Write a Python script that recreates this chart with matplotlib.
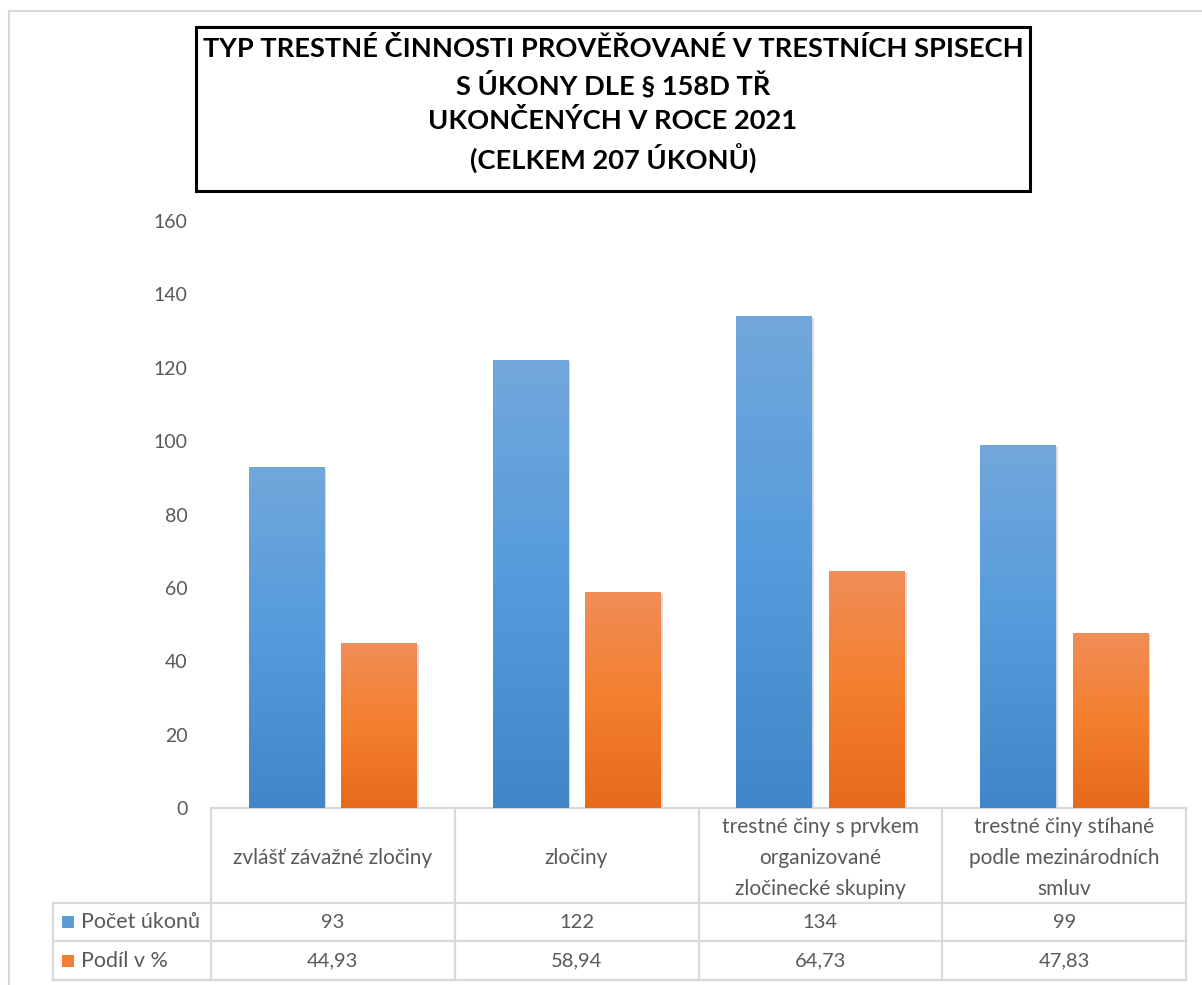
import numpy as np
import matplotlib
matplotlib.use('Agg')
import matplotlib.pyplot as plt
from matplotlib.colors import LinearSegmentedColormap
from matplotlib.patches import Rectangle
from matplotlib.transforms import blended_transform_factory
import matplotlib.patheffects as pe

kategorie = ['zvlášť závažné zločiny', 'zločiny',
             'trestné činy s prvkem\norganizované\nzločinecké skupiny',
             'trestné činy stíhané\npodle mezinárodních\nsmluv']
pocet_ukonu = [93, 122, 134, 99]
podil_pct = [44.93, 58.94, 64.73, 47.83]
serie = ['Počet úkonů', 'Podíl v %']
titulek = ('TYP TRESTNÉ ČINNOSTI PROVĚŘOVANÉ V TRESTNÍCH SPISECH\n'
           'S ÚKONY DLE § 158D TŘ\nUKONČENÝCH V ROCE 2021\n(CELKEM 207 ÚKONŮ)')

plt.rcParams['font.family'] = ['Lato', 'DejaVu Sans']
W, H = 1202, 985
fig = plt.figure(figsize=(W / 100, H / 100), dpi=100)


def fx(px):
    return px / W


def fy(py):
    return 1 - py / H


# vnější rámeček grafu
fig.patches.append(Rectangle((fx(9), fy(1100)), fx(1300), fy(11) - fy(1100),
                             transform=fig.transFigure, fill=False,
                             edgecolor='#D9D9D9', lw=1.5))
# rámeček titulku
fig.patches.append(Rectangle((fx(196), fy(191)), fx(1030) - fx(196), fy(27) - fy(191),
                             transform=fig.transFigure, fill=False,
                             edgecolor='black', lw=2.2))
fig.text(fx(613), fy(105), titulek, ha='center', va='center', fontsize=19.6,
         fontweight='bold', color='black', linespacing=1.42)

ax = fig.add_axes([fx(211), fy(808), fx(1186) - fx(211), fy(221) - fy(808)])
x = np.arange(len(kategorie))
sirka = 0.31
posun = 0.19

modra = LinearSegmentedColormap.from_list('m', ['#4285C9', '#559BDB', '#72A7DC'])
oranz = LinearSegmentedColormap.from_list('o', ['#E66A19', '#F47F2E', '#F08D57'])

for hodnoty, dx, cmap in [(pocet_ukonu, -posun, modra), (podil_pct, posun, oranz)]:
    bars = ax.bar(x + dx, hodnoty, width=sirka, color=cmap(0.5), zorder=2,
                  path_effects=[pe.SimplePatchShadow(offset=(1.5, -1.5), shadow_rgbFace='#999999', alpha=0.35),
                                pe.Normal()])
    grad = np.linspace(0, 1, 256).reshape(-1, 1)
    for b in bars:
        im = ax.imshow(grad, cmap=cmap, origin='lower', aspect='auto', zorder=3,
                       extent=(b.get_x(), b.get_x() + b.get_width(), 0, b.get_height()))
        im.set_clip_path(b)

ax.set_xlim(-0.5, len(kategorie) - 0.5)
ax.set_ylim(0, 160)
ax.set_yticks(range(0, 161, 20))
ax.set_xticks([])
for s in ax.spines.values():
    s.set_visible(False)
ax.tick_params(axis='y', length=0, pad=17, labelsize=14, labelcolor='#595959')

# datová tabulka pod grafem
tr = blended_transform_factory(ax.transData, ax.transAxes)
ax_h = 808 - 221


def ay(py):
    return (808 - py) / ax_h


lc = '#D9D9D9'
lw = 1.6
leg_left = -0.5 - 158 / 243.75
kw = dict(transform=tr, clip_on=False, color=lc, lw=lw)
ax.plot([-0.5, 3.5], [0, 0], **kw)
for yy in [903, 941, 980]:
    ax.plot([leg_left, 3.5], [ay(yy)] * 2, **kw)
ax.plot([leg_left, leg_left], [ay(903), ay(980)], **kw)
for xx in np.arange(-0.5, 3.6, 1):
    ax.plot([xx, xx], [0, ay(980)], **kw)

tkw = dict(transform=tr, ha='center', va='center', color='#595959', clip_on=False)
for i, k in enumerate(kategorie):
    ax.text(i, ay(858), k, linespacing=1.7, fontsize=15, **tkw)
    ax.text(i, ay(922), str(pocet_ukonu[i]), fontsize=14.5, **tkw)
    ax.text(i, ay(961), f'{podil_pct[i]:.2f}'.replace('.', ','), fontsize=14.5, **tkw)

for nazev, yy, c in [(serie[0], 922, '#5B9BD5'), (serie[1], 961, '#F07F34')]:
    ax.add_patch(Rectangle((leg_left + 9 / 243.75, ay(yy + 6)), 12 / 243.75, 12 / ax_h,
                           transform=tr, clip_on=False, facecolor=c, edgecolor='none'))
    ax.text(leg_left + 28 / 243.75, ay(yy), nazev, transform=tr, ha='left', va='center',
            fontsize=15.5, color='#595959', clip_on=False)

fig.savefig('out.png', dpi=100)
